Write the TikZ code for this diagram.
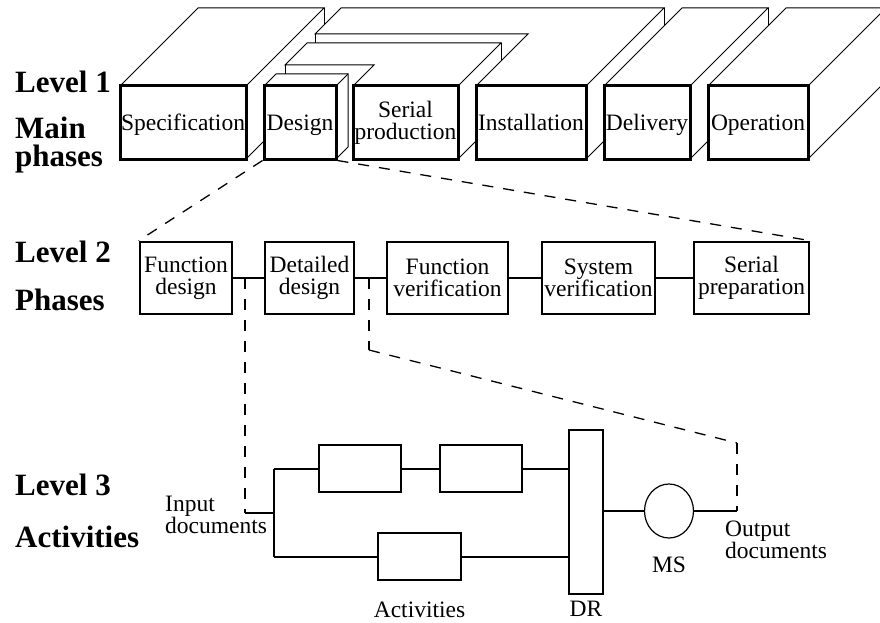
\documentclass[tikz,border=0pt]{standalone}
\usepackage{fontspec}
\setmainfont{Liberation Serif}
\usetikzlibrary{shapes.geometric,positioning}

\begin{document}
\begin{tikzpicture}[x=1pt,y=-1pt]

\tikzstyle{every node} = [inner sep=0pt, font=\fontsize{23.5}{22}\selectfont, align=center]
\tikzstyle{level} = [anchor=base west, font=\fontsize{31}{28}\selectfont\bfseries, align=left]
\tikzstyle{front} = [draw, line width=3pt, minimum height=73pt]
\tikzstyle{oneline} = [text height=15pt, text depth=0pt]
\tikzstyle{face} = [line width=1pt]
\tikzstyle{phase} = [draw, line width=2.6pt, minimum height=72pt]
\tikzstyle{act} = [draw, line width=2pt, minimum width=82pt, minimum height=47pt]
\tikzstyle{link} = [line width=2pt]
\tikzstyle{zoomline} = [line width=1.3pt, dash pattern=on 11pt off 10pt]

\useasboundingbox (0,0) rectangle (880,623);
\clip (0,0) rectangle (880,623);

% Level names
\node[level] (lvl1) at (15,93) {Level 1};
\node[level] (mainph) at (15,166) {Main\\phases};
\node[level] (lvl2) at (15,262) {Level 2};
\node[level] (phs) at (15,310) {Phases};
\node[level] (lvl3) at (15,495) {Level 3};
\node[level] (acts) at (15,547) {Activities};

% Specification block
\draw[face] (120,86) -- (198,8) -- (324,8) -- (246,86);
\draw[face] (324,8) -- (324,25);
\draw[face] (246,159) -- (264,141);

% Design block
\draw[face] (264,86) -- (276,74) -- (348,74) -- (348,147) -- (336,159);
\draw[face] (336,86) -- (348,74);

% Serial production block
\draw[face] (353,86) -- (374,65) -- (285,65) -- (307,43) -- (501,43) -- (458,86);
\draw[face] (285,65) -- (285,74);
\draw[face] (501,43) -- (501,61);
\draw[face] (458,159) -- (476,141);

% Installation block
\draw[face] (476,86) -- (528,34) -- (315,34) -- (341,8) -- (664,8) -- (586,86);
\draw[face] (315,34) -- (315,43);
\draw[face] (664,8) -- (664,26);
\draw[face] (586,159) -- (604,141);

% Delivery block
\draw[face] (604,86) -- (682,8) -- (768,8) -- (690,86);
\draw[face] (768,8) -- (768,26);
\draw[face] (690,159) -- (708,141);

% Operation block
\draw[face] (708,86) -- (786,8) -- (886,8) -- (808,86);
\draw[face] (808,159) -- (886,81);

% Main phases
\node[front, oneline, minimum width=126pt] (spec) at (183,122.5) {Specification};
\node[front, oneline, minimum width=72pt] (design) at (300,122.5) {Design};
\node[front, minimum width=105pt] (serial) at (405.5,122.5) {Serial\\production};
\node[front, oneline, minimum width=110pt] (inst) at (531,122.5) {Installation};
\node[front, oneline, minimum width=86pt] (deliv) at (647,122.5) {Delivery};
\node[front, oneline, minimum width=100pt] (oper) at (758,122.5) {Operation};

% Phases
\node[phase, minimum width=92pt] (fd) at (186,278) {Function\\design};
\node[phase, minimum width=89pt] (dd) at (309.5,278) {Detailed\\design};
\node[phase, minimum width=121pt] (fv) at (447.5,278) {Function\\verification};
\node[phase, minimum width=113pt] (sv) at (598.5,278) {System\\verification};
\node[phase, minimum width=115pt] (sp) at (751.5,278) {Serial\\preparation};
\foreach \from/\to in {fd/dd, dd/fv, fv/sv, sv/sp}
\draw[link] (\from) -- (\to);

\draw[zoomline] (design.south west) -- (fd.north west);
\draw[zoomline] (design.south east) -- (sp.north east);

% Activities
\coordinate (tapa) at (245,278);
\coordinate (tapb) at (369,278);
\coordinate (indoc) at (245,513);
\coordinate (split) at (274,513);
\coordinate (bend) at (369,350);
\coordinate (corner) at (737,443);
\coordinate (outdoc) at (737,511);

\node[act] (act1) at (360,468.5) {};
\node[act] (act2) at (481,468.5) {};
\node[act, minimum width=83pt] (act3) at (419.5,556.5) {};
\node[draw, line width=2pt, minimum width=34pt, minimum height=164pt] (dr) at (586,512) {};
\node[draw, ellipse, line width=1.2pt, minimum width=49pt, minimum height=54pt] (ms) at (669,511) {};

\draw[link] (split |- act1) -- (split |- act3);
\draw[link] (indoc) -- (split);
\draw[link] (split |- act1) -- (act1);
\draw[link] (act1) -- (act2);
\draw[link] (act2) -- (act2 -| dr.west);
\draw[link] (split |- act3) -- (act3);
\draw[link] (act3) -- (act3 -| dr.west);
\draw[link] (dr.east |- ms) -- (ms);
\draw[link] (ms) -- (outdoc);

\draw[zoomline, line width=2pt] (tapa) -- (indoc);
\draw[zoomline, line width=2pt] (tapb) -- (bend);
\draw[zoomline] (bend) -- (corner);
\draw[zoomline, line width=2pt] (corner) -- (outdoc);

\node[anchor=north west, align=left] (inlbl) at (165,496) {Input\\documents};
\node[anchor=north west, align=left] (outlbl) at (725,521) {Output\\documents};
\node[below=21pt of act3] (actlbl) {Activities};
\node[below=6pt of dr] (drlbl) {DR};
\node[below=18pt of ms] (mslbl) {MS};

\end{tikzpicture}
\end{document}
